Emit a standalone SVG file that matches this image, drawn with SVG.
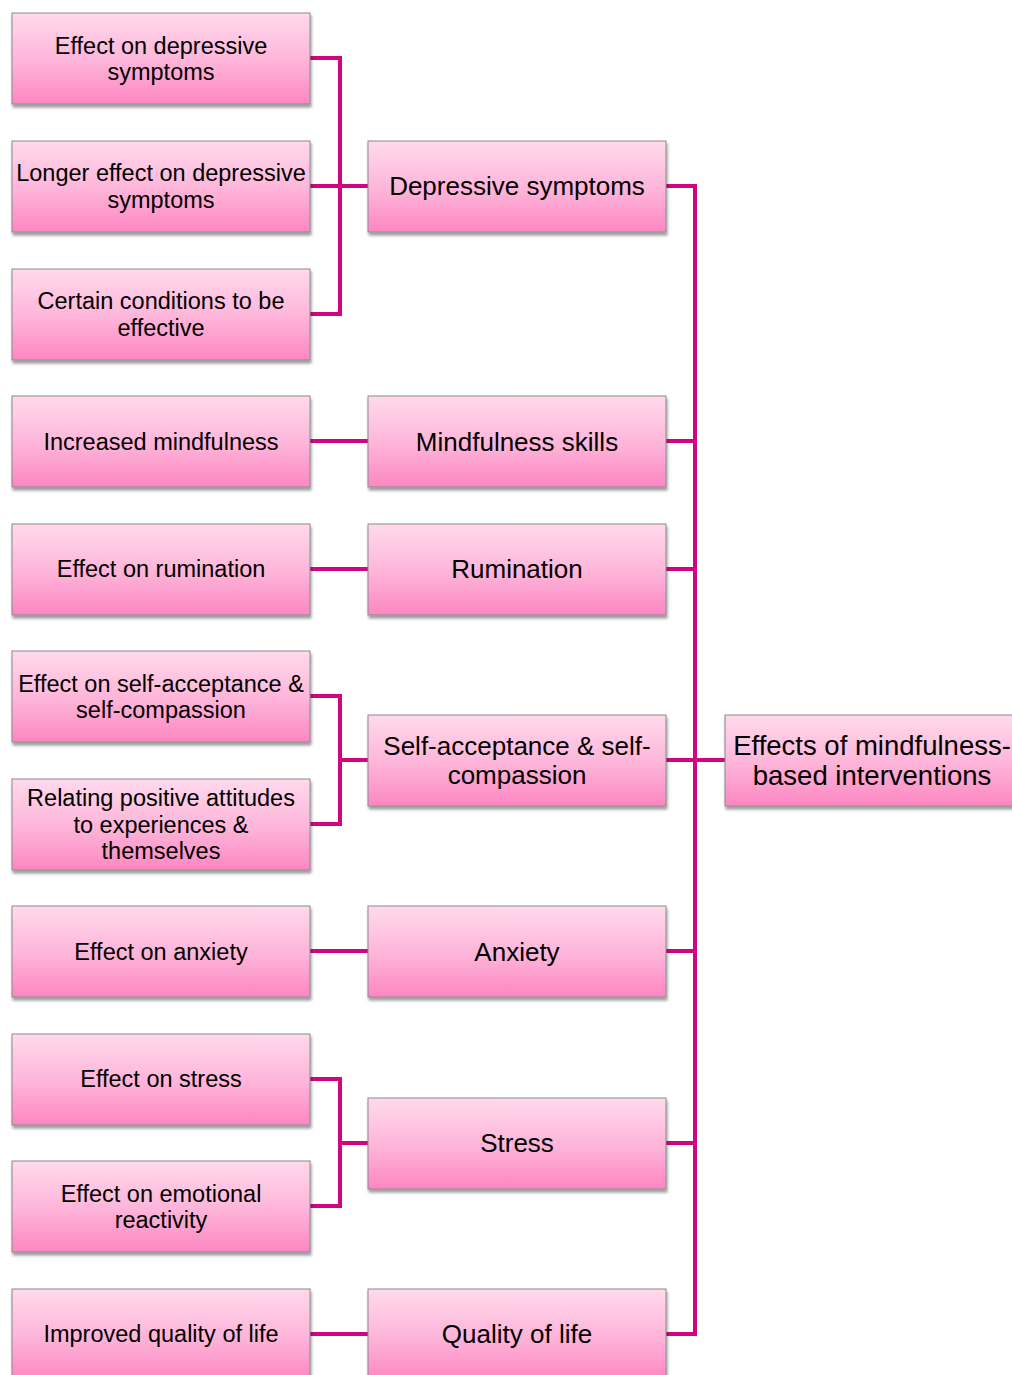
<svg xmlns="http://www.w3.org/2000/svg" width="1012" height="1375" viewBox="0 0 1012 1375">
<style>
.box{fill:url(#g);stroke:#8a8a8a;stroke-width:1;filter:url(#sh)}
.t{font-family:"Liberation Sans",Arial,sans-serif;font-size:23.5px;fill:#000;text-anchor:middle}
.m{font-size:26px}
.r{font-size:27.5px}
.c{fill:none;stroke:#d00680;stroke-width:4;stroke-linejoin:miter}
</style>
<defs>
<linearGradient id="g" x1="0" y1="0" x2="0" y2="1">
<stop offset="0" stop-color="#ffdaed"/>
<stop offset="0.55" stop-color="#feb3d8"/>
<stop offset="1" stop-color="#fd86c2"/>
</linearGradient>
<filter id="sh" x="-5%" y="-5%" width="115%" height="125%">
<feGaussianBlur in="SourceAlpha" stdDeviation="1.5"/>
<feOffset dx="1" dy="2.5" result="b"/>
<feComponentTransfer><feFuncA type="linear" slope="0.4"/></feComponentTransfer>
<feMerge><feMergeNode/><feMergeNode in="SourceGraphic"/></feMerge>
</filter>
</defs>
<rect width="1012" height="1375" fill="#fff"/>
<g id="connectors">
<path class="c" d="M310 58H340V314H310M310 186H368"/>
<path class="c" d="M310 696H340V824H310M340 760H368"/>
<path class="c" d="M310 1079H340V1206H310M340 1143H368"/>
<path class="c" d="M310 441H368M310 569H368M310 951H368M310 1334H368"/>
<path class="c" d="M666 186H695V1334H666M666 441H695M666 569H695M666 760H725M666 951H695M666 1143H695"/>
</g>
<g id="n1"><rect class="box" x="12" y="13" width="298" height="91"/><text class="t" x="161" y="54">Effect on depressive</text><text class="t" x="161" y="80">symptoms</text></g>
<g id="n2"><rect class="box" x="12" y="141" width="298" height="91"/><text class="t" x="161" y="181">Longer effect on depressive</text><text class="t" x="161" y="208">symptoms</text></g>
<g id="n3"><rect class="box" x="12" y="269" width="298" height="91"/><text class="t" x="161" y="309">Certain conditions to be</text><text class="t" x="161" y="336">effective</text></g>
<g id="n4"><rect class="box" x="12" y="396" width="298" height="91"/><text class="t" x="161" y="450">Increased mindfulness</text></g>
<g id="n5"><rect class="box" x="12" y="524" width="298" height="91"/><text class="t" x="161" y="577">Effect on rumination</text></g>
<g id="n6"><rect class="box" x="12" y="651" width="298" height="91"/><text class="t" x="161" y="692">Effect on self-acceptance &amp;</text><text class="t" x="161" y="718">self-compassion</text></g>
<g id="n7"><rect class="box" x="12" y="779" width="298" height="91"/><text class="t" x="161" y="806">Relating positive attitudes</text><text class="t" x="161" y="833">to experiences &amp;</text><text class="t" x="161" y="859">themselves</text></g>
<g id="n8"><rect class="box" x="12" y="906" width="298" height="91"/><text class="t" x="161" y="960">Effect on anxiety</text></g>
<g id="n9"><rect class="box" x="12" y="1034" width="298" height="91"/><text class="t" x="161" y="1087">Effect on stress</text></g>
<g id="n10"><rect class="box" x="12" y="1161" width="298" height="91"/><text class="t" x="161" y="1202">Effect on emotional</text><text class="t" x="161" y="1228">reactivity</text></g>
<g id="n11"><rect class="box" x="12" y="1289" width="298" height="91"/><text class="t" x="161" y="1342">Improved quality of life</text></g>
<g id="m1"><rect class="box" x="368" y="141" width="298" height="91"/><text class="t m" x="517" y="195">Depressive symptoms</text></g>
<g id="m2"><rect class="box" x="368" y="396" width="298" height="91"/><text class="t m" x="517" y="451">Mindfulness skills</text></g>
<g id="m3"><rect class="box" x="368" y="524" width="298" height="91"/><text class="t m" x="517" y="578">Rumination</text></g>
<g id="m4"><rect class="box" x="368" y="715" width="298" height="91"/><text class="t m" x="517" y="755">Self-acceptance &amp; self-</text><text class="t m" x="517" y="784">compassion</text></g>
<g id="m5"><rect class="box" x="368" y="906" width="298" height="91"/><text class="t m" x="517" y="961">Anxiety</text></g>
<g id="m6"><rect class="box" x="368" y="1098" width="298" height="91"/><text class="t m" x="517" y="1152">Stress</text></g>
<g id="m7"><rect class="box" x="368" y="1289" width="298" height="91"/><text class="t m" x="517" y="1343">Quality of life</text></g>
<g id="root"><rect class="box" x="725" y="715" width="298" height="91"/><text class="t r" x="872" y="755">Effects of mindfulness-</text><text class="t r" x="872" y="785">based interventions</text></g>
</svg>
